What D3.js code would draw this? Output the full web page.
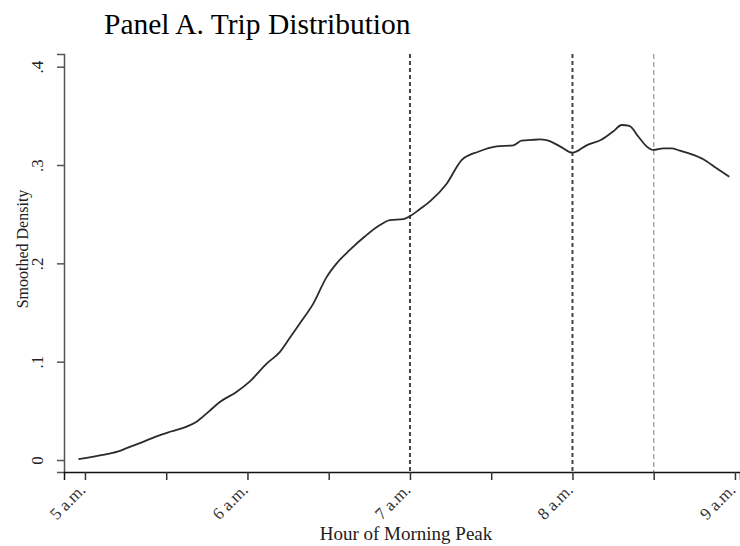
<!DOCTYPE html>
<html><head><meta charset="utf-8">
<script src="https://cdn.jsdelivr.net/npm/d3@7"></script>
<style>body{margin:0;background:#fff}svg{display:block}text{font-family:"Liberation Serif","Times New Roman",serif}</style>
</head><body>
<svg id="c" width="740" height="546"></svg>
<script>
// Data: hour of morning (decimal) and smoothed density
const hours = [4.96,5.0,5.1,5.2,5.256,5.35,5.44,5.53,5.626,5.687,5.76,5.83,5.93,6.015,6.118,6.2,6.26,6.323,6.405,6.487,6.549,6.63,6.72,6.815,6.877,6.959,7.0,7.06,7.123,7.226,7.318,7.42,7.533,7.636,7.687,7.75,7.8,7.84,7.923,8.0,8.087,8.18,8.25,8.303,8.35,8.405,8.456,8.497,8.56,8.61,8.66,8.73,8.805,8.887,8.965];
const density = [0.001,0.002,0.005,0.0085,0.012,0.018,0.024,0.029,0.034,0.039,0.049,0.059,0.069,0.080,0.098,0.110,0.124,0.139,0.159,0.186,0.200,0.2136,0.227,0.239,0.244,0.245,0.248,0.255,0.263,0.281,0.305,0.3135,0.319,0.320,0.3247,0.3255,0.326,0.3254,0.319,0.3125,0.320,0.326,0.334,0.3407,0.3397,0.329,0.319,0.3153,0.317,0.317,0.3146,0.311,0.3058,0.2966,0.288];
const xTickValues = [5,5.5,6,6.5,7,7.5,8,8.5,9];
const xTickLabels = {5:"5 a.m.",6:"6 a.m.",7:"7 a.m.",8:"8 a.m.",9:"9 a.m."};
const yTickValues = [0,0.1,0.2,0.3,0.4];
const yTickLabels = ["0",".1",".2",".3",".4"];
const refLines = [{h:7,dark:true},{h:8,dark:true},{h:8.5,dark:false}];

const svg = d3.select("#c");
const x = d3.scaleLinear().domain([4.871,9.031]).range([64,740]);
const y = d3.scaleLinear().domain([-0.0122,0.4129]).range([472,54]);

// title
svg.append("text").attr("x",104).attr("y",34).attr("font-size",29.5).attr("fill","#000").text("Panel A. Trip Distribution");

// reference lines
svg.selectAll("line.ref").data(refLines).join("line")
  .attr("x1",d=>x(d.h)).attr("x2",d=>x(d.h)).attr("y1",54).attr("y2",472)
  .attr("stroke",d=>d.dark?"#444":"#9a9a9a").attr("stroke-width",d=>d.dark?2:1.3)
  .attr("stroke-dasharray",d=>d.dark?"4,3":"5,3");

// curve
const line = d3.line().x((d,i)=>x(hours[i])).y(d=>y(d)).curve(d3.curveMonotoneX);
svg.append("path").datum(density).attr("d",line).attr("fill","none")
  .attr("stroke","#2b2b2b").attr("stroke-width",1.8).attr("stroke-linejoin","round");

// y axis
const yAxis = d3.axisLeft(y).tickValues(yTickValues).tickSize(7).tickFormat((d,i)=>yTickLabels[i]);
const gy = svg.append("g").attr("transform","translate(64,0)").call(yAxis);
gy.select(".domain").attr("stroke","#555").attr("stroke-width",1.5);
gy.selectAll(".tick line").attr("stroke","#555").attr("stroke-width",1.5);
gy.selectAll(".tick text").attr("font-family","Liberation Serif, serif").attr("font-size",17).attr("fill","#222")
  .attr("x",0).attr("dy",0).attr("y",-21).attr("text-anchor","middle").attr("transform","rotate(-90)");

// x axis
const xAxis = d3.axisBottom(x).tickValues(xTickValues).tickSize(8).tickFormat(d=>xTickLabels[d]||"");
const gx = svg.append("g").attr("transform","translate(0,472)").call(xAxis);
gx.select(".domain").attr("stroke","#111").attr("stroke-width",1.5);
gx.selectAll(".tick line").attr("stroke","#333").attr("stroke-width",1.5);
gx.selectAll(".tick text").attr("font-family","Liberation Serif, serif").attr("font-size",17).attr("fill","#333")
  .attr("x",0).attr("y",0).attr("dy",0).attr("text-anchor","end").attr("transform","translate(1,19) rotate(-45)");

// axis titles
svg.append("text").attr("transform","translate(28,249) rotate(-90)").attr("text-anchor","middle")
  .attr("font-size",16).attr("fill","#222").text("Smoothed Density");
svg.append("text").attr("x",406).attr("y",540).attr("text-anchor","middle")
  .attr("font-size",19).attr("fill","#222").text("Hour of Morning Peak");
</script>
</body></html>
